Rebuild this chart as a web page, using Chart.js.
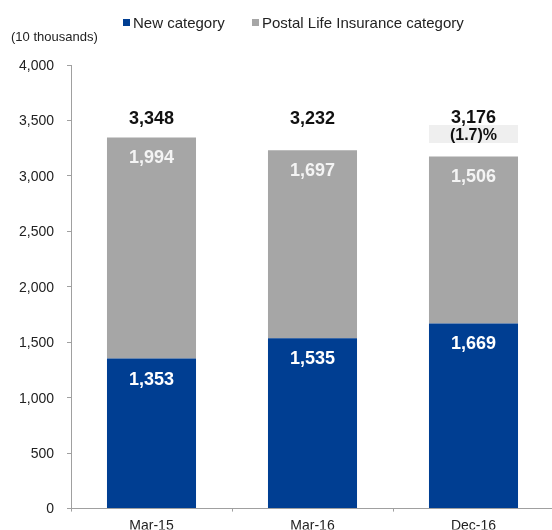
<!DOCTYPE html>
<html>
<head>
<meta charset="utf-8">
<script src="https://cdn.jsdelivr.net/npm/chart.js@4"></script>
<style>
  html, body { margin: 0; padding: 0; background: #fff; overflow: hidden; }
  #wrap { width: 554px; height: 530px; }
</style>
</head>
<body>
<div id="wrap"><canvas id="policyChart" width="554" height="530"></canvas></div>
<script>
// Número de pólizas (10 mil) por periodo
const periods = ['Mar-15', 'Mar-16', 'Dec-16'];
const newCategory = [1353, 1535, 1669];
const postalCategory = [1994, 1697, 1506];
const totals = [3348, 3232, 3176];
const changeLabels = [null, null, '(1.7)%'];
const yTicks = [0, 500, 1000, 1500, 2000, 2500, 3000, 3500, 4000];

const BLUE = '#003e92';
const GREY = '#a6a6a6';
const FONT = "'Liberation Sans', Arial, sans-serif";

// Etiquetas dentro de las barras, totales y leyenda superior
const labelsPlugin = {
  id: 'labelsPlugin',
  afterDatasetsDraw(chart) {
    const ctx = chart.ctx;
    ctx.save();
    ctx.textAlign = 'center';
    ctx.textBaseline = 'middle';
    ctx.font = 'bold 18px ' + FONT;
    chart.data.datasets.forEach((ds, i) => {
      chart.getDatasetMeta(i).data.forEach((bar, j) => {
        ctx.fillStyle = i === 0 ? '#ffffff' : '#f4f4f4';
        ctx.fillText(ds.data[j].toLocaleString('en-US'), bar.x, bar.y + 21);
      });
    });

    const meta = chart.getDatasetMeta(1);
    totals.forEach((t, j) => {
      const bar = meta.data[j];
      if (changeLabels[j]) {
        ctx.fillStyle = '#efefef';
        ctx.fillRect(bar.x - bar.width / 2, 125, bar.width, 18);
        ctx.fillStyle = '#111';
        ctx.font = 'bold 16px ' + FONT;
        ctx.fillText(changeLabels[j], bar.x, 136);
      }
      ctx.fillStyle = '#111';
      ctx.font = 'bold 18px ' + FONT;
      ctx.fillText(t.toLocaleString('en-US'), bar.x, changeLabels[j] ? 118 : 119);
    });
    ctx.restore();
  },
  afterDraw(chart) {
    const ctx = chart.ctx;
    ctx.save();
    ctx.textBaseline = 'middle';
    ctx.textAlign = 'left';
    ctx.fillStyle = '#222';
    ctx.font = '13px ' + FONT;
    ctx.fillText('(10 thousands)', 11, 37);

    // leyenda
    const legendX = [123, 252];
    ctx.font = '15px ' + FONT;
    chart.data.datasets.forEach((ds, i) => {
      ctx.fillStyle = ds.backgroundColor;
      ctx.fillRect(legendX[i], 19, 7, 7);
      ctx.fillStyle = '#222';
      ctx.fillText(ds.label, legendX[i] + 10, 23.5);
    });
    ctx.restore();
  }
};

new Chart(document.getElementById('policyChart'), {
  type: 'bar',
  data: {
    labels: periods,
    datasets: [
      { label: 'New category', data: newCategory, backgroundColor: BLUE },
      { label: 'Postal Life Insurance category', data: postalCategory, backgroundColor: GREY }
    ]
  },
  options: {
    responsive: false,
    animation: false,
    layout: { padding: { top: 65, left: 0, right: 0, bottom: 0 } },
    plugins: {
      legend: { display: false },
      tooltip: { enabled: false }
    },
    datasets: {
      bar: { categoryPercentage: 1, barPercentage: 0.553 }
    },
    scales: {
      x: {
        stacked: true,
        offset: true,
        afterFit(scale) { scale.height = 21; },
        grid: { display: true, drawOnChartArea: false, offset: true, tickLength: 3, color: '#a0a0a0' },
        border: { display: true, color: '#a0a0a0' },
        ticks: { color: '#222', padding: 6, font: { family: FONT, size: 14 } }
      },
      y: {
        stacked: true,
        min: 0,
        max: 4000,
        afterFit(scale) { scale.width = 71; },
        afterBuildTicks(scale) { scale.ticks = yTicks.map(v => ({ value: v })); },
        grid: { display: true, drawOnChartArea: false, tickLength: 4, color: '#a0a0a0' },
        border: { display: true, color: '#a0a0a0' },
        ticks: {
          color: '#222',
          padding: 13,
          labelOffset: 1,
          font: { family: FONT, size: 14 },
          callback: v => v.toLocaleString('en-US')
        }
      }
    }
  },
  plugins: [labelsPlugin]
});
</script>
</body>
</html>
